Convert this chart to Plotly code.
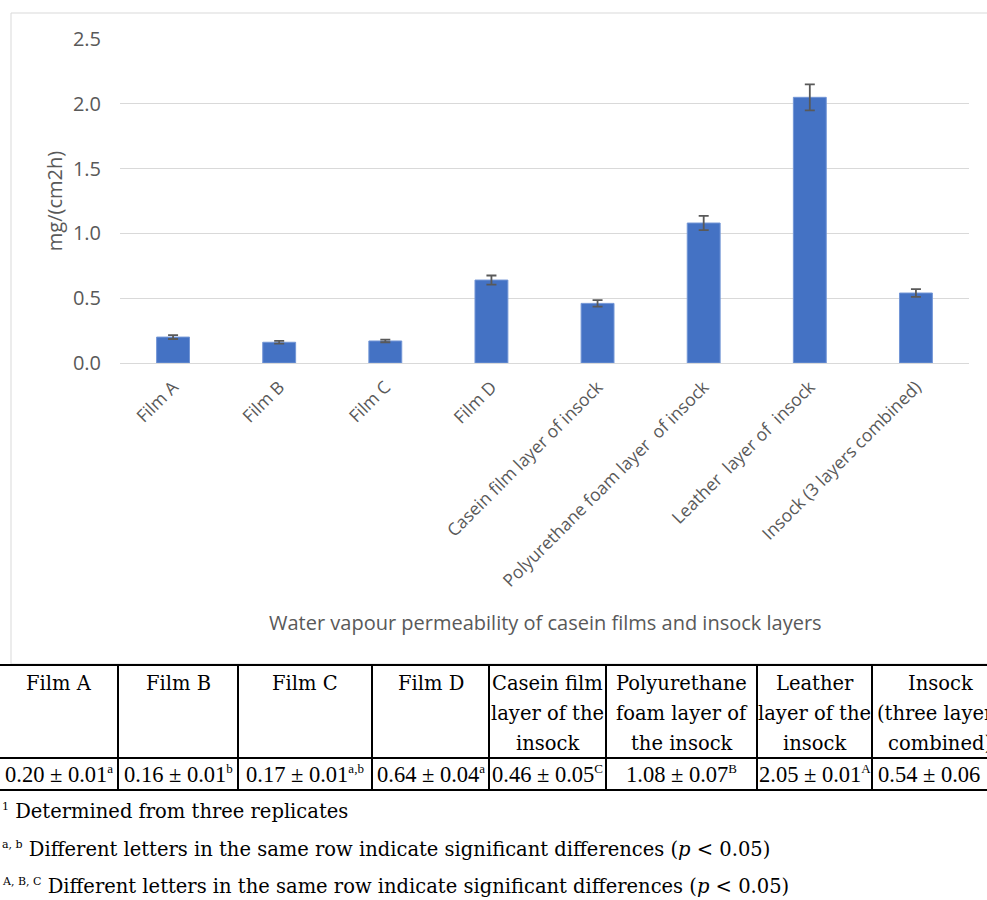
import plotly.graph_objects as go

# ---------------- data ----------------
categories = ["Film A", "Film B", "Film C", "Film D",
              "Casein film layer of insock",
              "Polyurethane foam layer\u00a0 of insock",
              "Leather\u00a0 layer of\u00a0 insock",
              "Insock (3 layers combined)"]
wvp_values = [0.20, 0.16, 0.17, 0.64, 0.46, 1.08, 2.05, 0.54]
wvp_errors = [0.015, 0.01, 0.01, 0.035, 0.025, 0.055, 0.10, 0.03]
y_ticks = [0.0, 0.5, 1.0, 1.5, 2.0, 2.5]

table_headers = ["Film A", "Film B", "Film C", "Film D",
                 "Casein film<br>layer of the<br>insock",
                 "Polyurethane<br>foam layer of<br>the insock",
                 "Leather<br>layer of the<br>insock",
                 "Insock<br>(three layers<br>combined)"]
table_means = ["0.20", "0.16", "0.17", "0.64", "0.46", "1.08", "2.05", "0.54"]
table_sds = ["0.01", "0.01", "0.01", "0.04", "0.05", "0.07", "0.01", "0.06"]
table_letters = ["a", "b", "a,b", "a", "C", "B", "A", ""]
foot_marks = ["1", "a, b", "A, B, C"]
foot_texts = ["Determined from three replicates",
              "Different letters in the same row indicate significant differences (<i>p</i> &lt; 0.05)",
              "Different letters in the same row indicate significant differences (<i>p</i> &lt; 0.05)"]

x_title = "Water vapour permeability of casein films and insock layers"
y_title = "mg/(cm2h)"

# ---------------- layout geometry (pixels) ----------------
W, H = 987, 900
PL, PR, PT, PB = 120, 969, 39, 363  # plot area


def px_x(px):
    return (px - PL) / (PR - PL)


def px_y(py):
    return (PB - py) / (PB - PT)


def small_sup(s, size):
    return f"<sup><span style='font-size:{size}px'>{s}</span></sup>"


SANS = "Open Sans"
SERIF = "DejaVu Serif"
NUM_SERIF = "Liberation Serif"
SERIF_SIZE = 19.5
GREY = "#595959"

fig = go.Figure()
fig.add_trace(go.Bar(
    x=categories, y=wvp_values, width=0.31,
    marker=dict(color="#4472C4", line=dict(color="#7396d6", width=1)),
    error_y=dict(type="data", array=wvp_errors, visible=True,
                 color=GREY, thickness=1.8, width=5),
    showlegend=False,
))

shapes = []
annotations = []

# chart outer frame
shapes.append(dict(type="rect", xref="paper", yref="paper",
                   x0=px_x(11), x1=px_x(1010), y0=px_y(664), y1=px_y(13),
                   line=dict(color="#d9d9d9", width=1), fillcolor="rgba(0,0,0,0)",
                   layer="below"))

# x title
annotations.append(dict(text=x_title, xref="paper", yref="paper",
                        x=px_x(545), y=px_y(622), xanchor="center", yanchor="middle",
                        showarrow=False, font=dict(family=SANS, size=20, color=GREY)))

# ---------------- table ----------------
col_edges = [-2, 118, 238, 372, 489, 606, 757, 872, 1008]
T_TOP, T_MID, T_BOT = 665, 758, 790
for yy in (T_TOP, T_MID, T_BOT):
    shapes.append(dict(type="line", xref="paper", yref="paper",
                       x0=px_x(-5), x1=px_x(1010), y0=px_y(yy), y1=px_y(yy),
                       line=dict(color="black", width=2)))
for xx in col_edges:
    shapes.append(dict(type="line", xref="paper", yref="paper",
                       x0=px_x(xx), x1=px_x(xx), y0=px_y(T_TOP), y1=px_y(T_BOT),
                       line=dict(color="black", width=2)))

header_line_y = [683, 713, 744]
for i, hdr in enumerate(table_headers):
    cx = (col_edges[i] + col_edges[i + 1]) / 2
    if i == 0:
        cx = 59
    for j, line in enumerate(hdr.split("<br>")):
        annotations.append(dict(text=line, xref="paper", yref="paper",
                                x=px_x(cx), y=px_y(header_line_y[j]),
                                xanchor="center", yanchor="middle", showarrow=False,
                                font=dict(family=SERIF, size=SERIF_SIZE, color="black")))
    val = f"{table_means[i]} ± {table_sds[i]}"
    if table_letters[i]:
        val += small_sup(table_letters[i], 13)
        anchor, ax = "center", cx
    else:
        anchor, ax = "left", col_edges[i] + 4
    annotations.append(dict(text=val, xref="paper", yref="paper",
                            x=px_x(ax), y=px_y(774),
                            xanchor=anchor, yanchor="middle", showarrow=False,
                            font=dict(family=NUM_SERIF, size=22.5, color="black")))

foot_y = [812, 849, 886]
for k, ft in enumerate(foot_texts):
    annotations.append(dict(text=small_sup(foot_marks[k], 11) + " " + ft,
                            xref="paper", yref="paper",
                            x=px_x(0), y=px_y(foot_y[k]),
                            xanchor="left", yanchor="middle", showarrow=False,
                            font=dict(family=SERIF, size=SERIF_SIZE, color="black")))

fig.update_layout(
    width=W, height=H,
    margin=dict(l=PL, r=W - PR, t=PT, b=H - PB, autoexpand=False),
    paper_bgcolor="white", plot_bgcolor="white",
    shapes=shapes, annotations=annotations,
    xaxis=dict(tickangle=-45, showgrid=False, showline=True, linecolor="#d9d9d9",
               linewidth=1, ticks="", ticklabelstandoff=6,
               tickfont=dict(family=SANS, size=17.5, color=GREY),
               automargin=False, fixedrange=True),
    yaxis=dict(range=[0, 2.5], tickvals=y_ticks, tickformat=".1f",
               showgrid=True, gridcolor="#d9d9d9", gridwidth=1.3,
               zeroline=True, zerolinecolor="#d9d9d9", zerolinewidth=1.3,
               showline=False, ticks="", ticklabelstandoff=18,
               tickfont=dict(family=SANS, size=20, color=GREY),
               title=dict(text=y_title, standoff=4,
                          font=dict(family=SANS, size=20, color=GREY)),
               automargin=False, fixedrange=True),
)

fig.write_html("out.html", config={"displayModeBar": False},
               post_script="document.body.style.margin='0px';document.body.style.overflow='hidden';")
